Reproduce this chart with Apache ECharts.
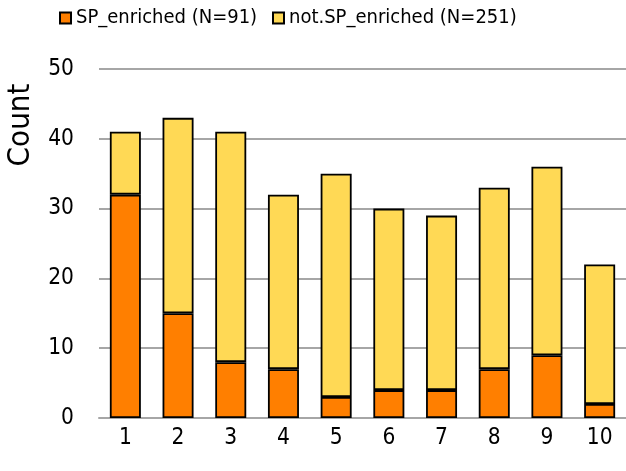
<!DOCTYPE html>
<html>
<head>
<meta charset="utf-8">
<script src="https://cdn.jsdelivr.net/npm/echarts@6/dist/echarts.min.js"></script>
<style>
  html, body { margin: 0; padding: 0; background: #fff; }
  #chart { width: 626px; height: 471px; }
</style>
</head>
<body>
<div id="chart"></div>
<script>
// bins 1..10, stacked counts
const categories = ['1', '2', '3', '4', '5', '6', '7', '8', '9', '10']
const spEnriched = [32, 15, 8, 7, 3, 4, 4, 7, 9, 2]
const notSpEnriched = [9, 28, 33, 25, 32, 26, 25, 26, 27, 20]
const seriesNames = ['SP_enriched (N=91)', 'not.SP_enriched (N=251)']

const FONT = '"DejaVu Sans Condensed", "DejaVu Sans", sans-serif'

const chart = echarts.init(document.getElementById('chart'))

// one legend per item so each sits where the reference puts it
const legendBase = {
  top: 8,
  padding: 0,
  itemWidth: 11,
  itemHeight: 11,
  icon: 'rect',
  textStyle: { fontFamily: FONT, fontSize: 20, color: '#000' }
}

chart.setOption({
  animation: false,
  backgroundColor: '#fff',
  legend: [
    Object.assign({}, legendBase, { left: 59, data: [seriesNames[0]] }),
    Object.assign({}, legendBase, { left: 272, data: [seriesNames[1]] })
  ],
  graphic: [
    {
      type: 'text',
      x: 21,
      y: 125,
      rotation: Math.PI / 2,
      style: {
        text: 'Count',
        font: '31px ' + FONT,
        fill: '#000',
        align: 'center',
        verticalAlign: 'middle'
      }
    }
  ],
  grid: { left: 99, top: 69, width: 528, height: 349, containLabel: false },
  xAxis: {
    type: 'category',
    data: categories,
    axisLine: { show: true, lineStyle: { color: '#a6a6a6', width: 2 } },
    axisTick: { show: false },
    axisLabel: { fontFamily: FONT, fontSize: 22.5, color: '#000', margin: 9 }
  },
  yAxis: {
    type: 'value',
    min: 0,
    max: 50,
    interval: 10,
    axisLine: { show: false },
    axisTick: { show: false },
    axisLabel: { fontFamily: FONT, fontSize: 22.5, color: '#000', margin: 25 },
    splitLine: { lineStyle: { color: '#a6a6a6', width: 2 } }
  },
  series: [
    {
      name: seriesNames[0],
      type: 'bar',
      stack: 'total',
      data: spEnriched,
      barWidth: 31,
      itemStyle: { color: '#ff7f00', borderColor: '#000', borderWidth: 1.8 }
    },
    {
      name: seriesNames[1],
      type: 'bar',
      stack: 'total',
      data: notSpEnriched,
      barWidth: 31,
      itemStyle: { color: '#ffd955', borderColor: '#000', borderWidth: 1.8 }
    }
  ]
})
</script>
</body>
</html>
